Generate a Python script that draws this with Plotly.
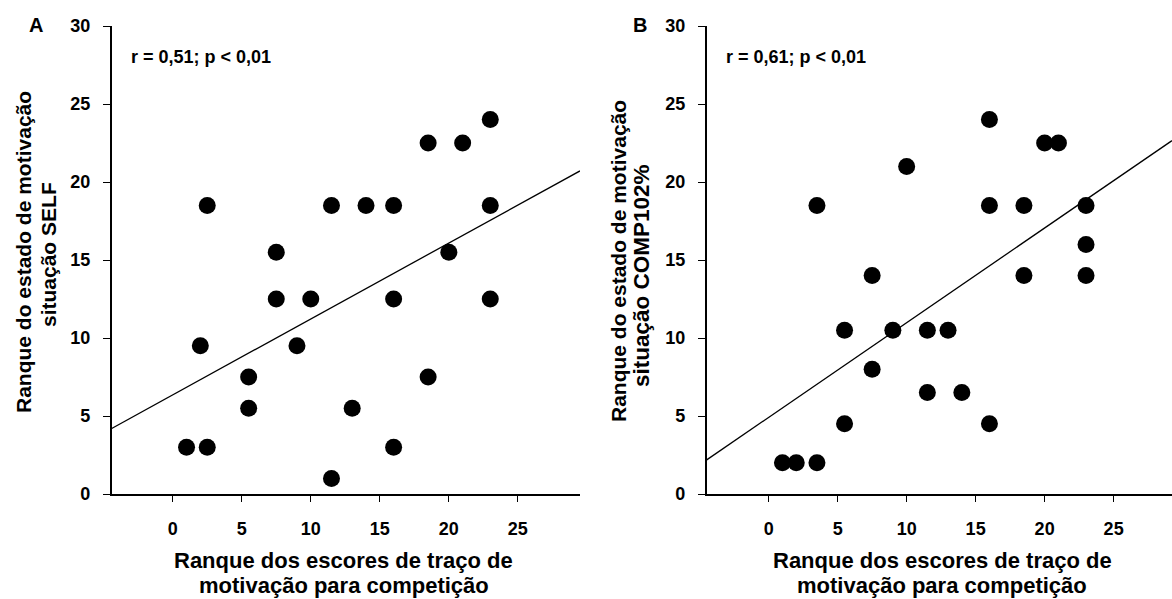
import numpy as np
import plotly.graph_objects as go

# Panel A: trait rank vs SELF state rank
trait_a = [1, 2.5, 2, 2.5, 5.5, 5.5, 7.5, 7.5, 9, 10, 11.5, 11.5, 13, 14, 16, 16, 16,
           18.5, 18.5, 20, 21, 23, 23, 23]
self_a = [3, 3, 9.5, 18.5, 5.5, 7.5, 12.5, 15.5, 9.5, 12.5, 18.5, 1, 5.5, 18.5, 18.5, 12.5, 3,
          22.5, 7.5, 15.5, 22.5, 24, 18.5, 12.5]

# Panel B: trait rank vs COMP102% state rank
trait_b = [1, 2, 3.5, 3.5, 5.5, 5.5, 7.5, 7.5, 9, 10, 11.5, 11.5, 13, 14, 16, 16, 16,
           18.5, 18.5, 20, 21, 23, 23, 23]
comp_b = [2, 2, 2, 18.5, 4.5, 10.5, 14, 8, 10.5, 21, 10.5, 6.5, 10.5, 6.5, 24, 18.5, 4.5,
          18.5, 14, 22.5, 22.5, 18.5, 16, 14]

x_ticks = [0, 5, 10, 15, 20, 25]
y_ticks = [0, 5, 10, 15, 20, 25, 30]
stats_a = "r = 0,51; p < 0,01"
stats_b = "r = 0,61; p < 0,01"
panel_labels = ["A", "B"]
y_title_line1 = "Ranque do estado de motivação"
y_title_line2 = ["situação SELF", "situação COMP102%"]
x_title_lines = ["Ranque dos escores de traço de", "motivação para competição"]

W, H = 1172, 599
xr_a = [-4.42, 29.5]
xr_b = [-4.49, 29.23]
FONT = "Liberation Sans"

fig = go.Figure()

def add_panel(xs, ys, xaxis, yaxis, xr):
    fig.add_trace(go.Scatter(x=xs, y=ys, mode="markers", xaxis=xaxis, yaxis=yaxis,
                             marker=dict(color="black", size=17, line=dict(width=0)),
                             showlegend=False, cliponaxis=False))
    slope, intercept = np.polyfit(xs, ys, 1)
    lx = np.array(xr)
    fig.add_trace(go.Scatter(x=lx, y=intercept + slope * lx, mode="lines",
                             xaxis=xaxis, yaxis=yaxis,
                             line=dict(color="black", width=1.3), showlegend=False))

add_panel(trait_a, self_a, "x", "y", xr_a)
add_panel(trait_b, comp_b, "x2", "y2", xr_b)

def py(v):
    return 1 - v / H

ydom = [py(494), py(26)]
tickfont = dict(family=FONT, size=18, color="black", weight="bold")
common_x = dict(showline=True, linecolor="black", linewidth=1.5, ticks="outside", ticklen=6,
                tickwidth=1, tickcolor="black", tickvals=x_ticks, showgrid=False,
                zeroline=False, tickfont=tickfont, ticklabelstandoff=12, automargin=False)
common_y = dict(showline=True, linecolor="black", linewidth=1.5, ticks="outside", ticklen=7,
                tickwidth=1, tickcolor="black", tickvals=y_ticks, range=[0, 30],
                showgrid=False, zeroline=False, tickfont=tickfont, ticklabelstandoff=9,
                automargin=False)

fig.update_layout(
    width=W, height=H, margin=dict(l=0, r=0, t=0, b=0, autoexpand=False),
    paper_bgcolor="white", plot_bgcolor="white",
    xaxis=dict(domain=[111.7 / W, 580 / W], range=xr_a, anchor="y", **common_x),
    yaxis=dict(domain=ydom, anchor="x", **common_y),
    xaxis2=dict(domain=[706.7 / W, 1.0], range=xr_b, anchor="y2", **common_x),
    yaxis2=dict(domain=ydom, anchor="x2", **common_y),
)

xtitlefont = dict(family=FONT, size=22, color="black", weight="bold")
ytitlefont = dict(family=FONT, size=21, color="black", weight="bold")
ytitlefont_b2 = dict(family=FONT, size=22.5, color="black", weight="bold")
ann = []

def add_text(text, px, pyv, font, angle=0, xanchor="center"):
    ann.append(dict(text=text, x=px / W, y=py(pyv), xref="paper", yref="paper",
                    xanchor=xanchor, yanchor="middle", textangle=angle,
                    showarrow=False, font=font))

letterfont = dict(family=FONT, size=20, color="black", weight="bold")
add_text(panel_labels[0], 36, 25, letterfont)
add_text(panel_labels[1], 640, 25, letterfont)
statfont = dict(family=FONT, size=18, color="black", weight="bold")
add_text(stats_a, 129, 57, statfont, xanchor="left")
add_text(stats_b, 724, 57, statfont, xanchor="left")
# y titles (two lines each)
add_text(y_title_line1, 23, 252, ytitlefont, angle=-90)
add_text(y_title_line2[0], 48, 255, ytitlefont, angle=-90)
add_text(y_title_line1, 618, 261, ytitlefont, angle=-90)
add_text(y_title_line2[1], 642, 276, ytitlefont_b2, angle=-90)
# x titles (two lines each)
add_text(x_title_lines[0], 343.5, 560, xtitlefont)
add_text(x_title_lines[1], 343.5, 585, xtitlefont)
add_text(x_title_lines[0], 942, 560, xtitlefont)
add_text(x_title_lines[1], 942, 585, xtitlefont)
fig.update_layout(annotations=ann)

fig.write_html("out.html")
